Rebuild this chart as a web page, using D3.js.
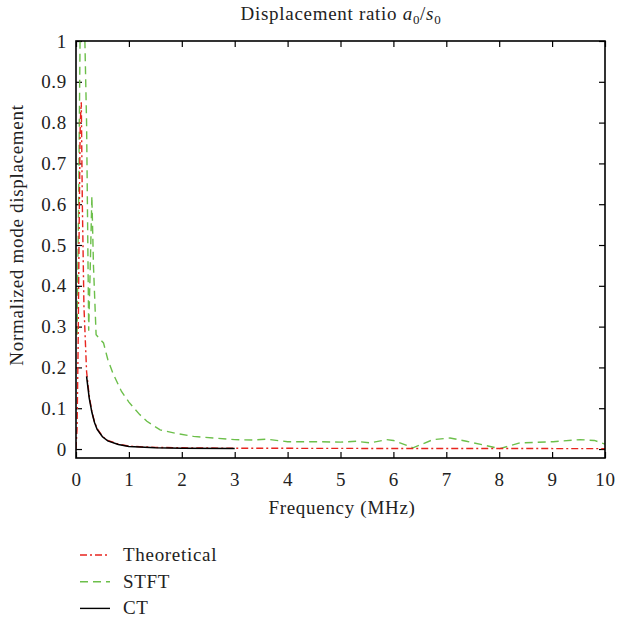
<!DOCTYPE html>
<html><head><meta charset="utf-8">
<script src="https://cdn.jsdelivr.net/npm/d3@7"></script>
<style>body{margin:0;background:#fff}svg{display:block}text{font-family:"Liberation Serif","DejaVu Serif",serif;fill:#222;letter-spacing:0.7px}</style>
</head><body>
<script>
const xTicks=[0,1,2,3,4,5,6,7,8,9,10];
const yTicks=[0,0.1,0.2,0.3,0.4,0.5,0.6,0.7,0.8,0.9,1];
const theoretical=[[0.0,0.0],[0.02,0.05],[0.04,0.25],[0.06,0.55],[0.08,0.8],[0.1,0.85],[0.12,0.6],[0.15,0.35],[0.2,0.19],[0.25,0.13],[0.3,0.092],[0.35,0.066],[0.4,0.05],[0.5,0.031],[0.6,0.021],[0.8,0.012],[1,0.007],[1.5,0.004],[2,0.003],[3,0.002],[5,0.0015],[10,0.001]];
const stft=[[0.02,0.28],[0.05,0.6],[0.08,1.05],[0.16,1.05],[0.2,0.8],[0.24,0.29],[0.27,0.45],[0.3,0.62],[0.33,0.45],[0.38,0.28],[0.45,0.27],[0.52,0.26],[0.6,0.22],[0.7,0.185],[0.86,0.141],[1.0,0.115],[1.2,0.085],[1.34,0.068],[1.59,0.047],[1.9,0.038],[2.22,0.031],[2.6,0.027],[3.0,0.023],[3.35,0.022],[3.6,0.024],[4.0,0.018],[4.5,0.018],[5.0,0.017],[5.3,0.019],[5.56,0.015],[5.87,0.023],[6.0,0.021],[6.37,0.003],[6.75,0.023],[7.07,0.027],[7.38,0.019],[7.7,0.01],[8.01,0.001],[8.39,0.015],[9.02,0.018],[9.53,0.023],[9.8,0.021],[10,0.012]];
const ct=[[0.2,0.178],[0.25,0.125],[0.3,0.09],[0.35,0.065],[0.4,0.048],[0.5,0.03],[0.6,0.02],[0.8,0.011],[1.0,0.006],[1.5,0.003],[2,0.002],[3,0.001]];
const legendItems=[{name:"Theoretical",color:"#e8251f",dash:"7,3,2,3"},{name:"STFT",color:"#6cbf4a",dash:"8,5"},{name:"CT",color:"#000",dash:null}];

const W=617,H=621,L=76,R=605,T=41,B=458;
const svg=d3.select("body").append("svg").attr("width",W).attr("height",H);
const x=d3.scaleLinear().domain([0,10]).range([L,R]);
const y=d3.scaleLinear().domain([-0.022,1]).range([B,T]);

svg.append("defs").append("clipPath").attr("id","clip").append("rect").attr("x",L).attr("y",T).attr("width",R-L).attr("height",B-T);

const fs="19px";
svg.append("g").attr("transform",`translate(0,${B})`).call(d3.axisBottom(x).tickValues(xTicks).tickSize(-6).tickPadding(15).tickFormat(d3.format("d")))
 .call(g=>{g.selectAll("text").style("font-size",fs).attr("font-family",null);g.select(".domain").remove();g.selectAll("line").attr("stroke","#000").attr("stroke-width",1.2);});
svg.append("g").attr("transform",`translate(0,${T})`).call(d3.axisTop(x).tickValues(xTicks).tickSize(-6).tickFormat(""))
 .call(g=>{g.select(".domain").remove();g.selectAll("line").attr("stroke","#000").attr("stroke-width",1.2);});
svg.append("g").attr("transform",`translate(${L},0)`).call(d3.axisLeft(y).tickValues(yTicks).tickSize(-6).tickPadding(9).tickFormat(d=>d===0?"0":d===1?"1":d3.format(".1f")(d)))
 .call(g=>{g.selectAll("text").style("font-size",fs).attr("font-family",null);g.select(".domain").remove();g.selectAll("line").attr("stroke","#000").attr("stroke-width",1.2);});
svg.append("g").attr("transform",`translate(${R},0)`).call(d3.axisRight(y).tickValues(yTicks).tickSize(-6).tickFormat(""))
 .call(g=>{g.select(".domain").remove();g.selectAll("line").attr("stroke","#000").attr("stroke-width",1.2);});

const line=d3.line().x(d=>x(d[0])).y(d=>y(d[1]));
const gp=svg.append("g").attr("clip-path","url(#clip)");
gp.append("path").datum(stft).attr("d",line).attr("fill","none").attr("stroke",legendItems[1].color).attr("stroke-width",1.4).attr("stroke-dasharray",legendItems[1].dash);
gp.append("path").datum(theoretical).attr("d",line).attr("fill","none").attr("stroke",legendItems[0].color).attr("stroke-width",1.4).attr("stroke-dasharray",legendItems[0].dash);
gp.append("path").datum(ct).attr("d",line).attr("fill","none").attr("stroke","#000").attr("stroke-width",1.5);

svg.append("rect").attr("x",L).attr("y",T).attr("width",R-L).attr("height",B-T).attr("fill","none").attr("stroke","#000").attr("stroke-width",1.6);

const t=svg.append("text").attr("x",341).attr("y",20).attr("text-anchor","middle").style("font-size",fs);
t.append("tspan").text("Displacement ratio ");
t.append("tspan").attr("font-style","italic").text("a");
t.append("tspan").attr("dy",4).style("font-size","13px").text("0");
t.append("tspan").attr("dy",-4).text("/");
t.append("tspan").attr("font-style","italic").text("s");
t.append("tspan").attr("dy",4).style("font-size","13px").text("0");

svg.append("text").attr("x",342).attr("y",514).attr("text-anchor","middle").style("font-size",fs).text("Frequency (MHz)");
svg.append("text").attr("transform","translate(23,235) rotate(-90)").attr("text-anchor","middle").style("font-size",fs).text("Normalized mode displacement");

legendItems.forEach((d,i)=>{
  const yy=555+i*26.7;
  svg.append("line").attr("x1",80).attr("x2",110).attr("y1",yy).attr("y2",yy).attr("stroke",d.color).attr("stroke-width",1.4).attr("stroke-dasharray",d.dash);
  svg.append("text").attr("x",123).attr("y",yy+6).style("font-size",fs).text(d.name);
});
</script>
</body></html>
